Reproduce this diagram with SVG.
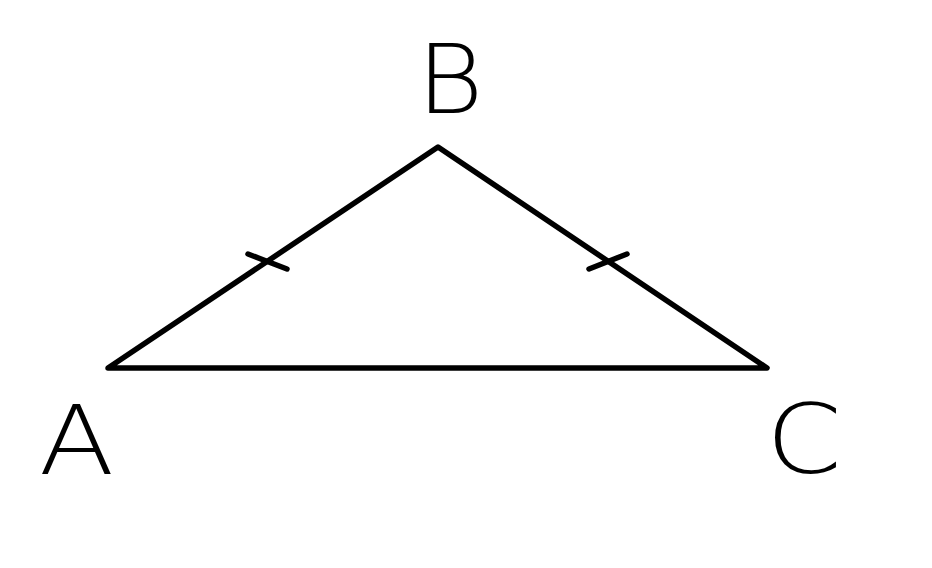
<svg xmlns="http://www.w3.org/2000/svg" width="932" height="568" viewBox="0 0 932 568">
<style>
.edge{fill:none;stroke:#000;stroke-width:5.5;stroke-linecap:round;stroke-linejoin:round}
.lbl{font-family:"DejaVu Sans","Liberation Sans",sans-serif;font-size:97px;font-weight:300;fill:#000;text-anchor:middle}
</style>
<rect width="932" height="568" fill="#fff"/>
<g id="connectors">
<path class="edge" d="M108,368 L438,147 L767,368 Z"/>
<line class="edge" x1="248" y1="254" x2="287" y2="269"/>
<line class="edge" x1="589" y1="269" x2="627" y2="254"/>
</g>
<g id="A" transform="translate(76.5,474) scale(1.14,1)"><text class="lbl" x="0" y="0">A</text></g>
<g id="B" transform="translate(450,113) scale(1.05,1)"><text class="lbl" x="0" y="0">B</text></g>
<g id="C" transform="translate(804,473) scale(1.12,1)"><text class="lbl" x="0" y="0">C</text></g>
</svg>
